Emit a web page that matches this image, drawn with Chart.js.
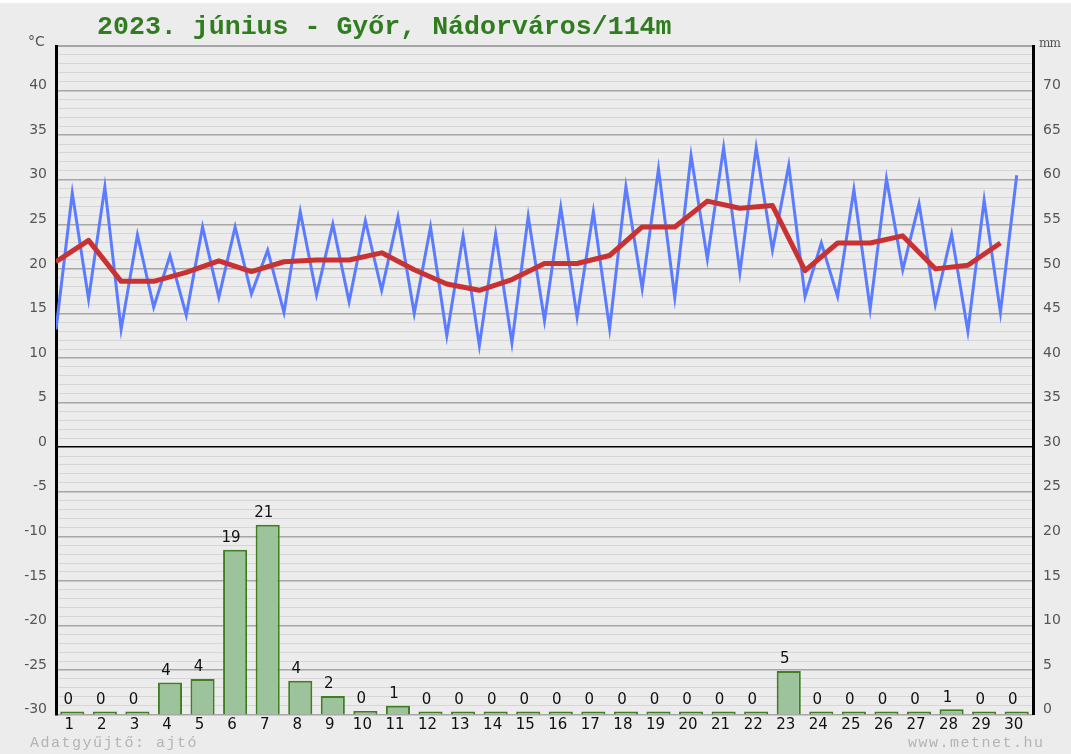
<!DOCTYPE html>
<html><head><meta charset="utf-8">
<script src="https://cdn.jsdelivr.net/npm/chart.js@4/dist/chart.umd.min.js"></script>
<style>
html,body{margin:0;padding:0;background:#fff;width:1071px;height:754px;overflow:hidden;}
#wrap{position:absolute;left:0;top:3px;width:1071px;height:751px;background:#ececec;}
canvas{position:absolute;left:0;top:0;}
.t{position:absolute;white-space:nowrap;line-height:1;}
</style></head><body>
<div id="wrap"></div>
<canvas id="c" width="1071" height="754"></canvas>
<div class="t" style="left:97px;top:14px;font-weight:bold;font-size:26.6px;font-family:'Liberation Mono';color:#2f7d1f;">2023. június - Győr, Nádorváros/114m</div>
<div class="t" style="left:28px;top:34px;font-size:14px;font-family:'DejaVu Sans';color:#555;">°C</div>
<div class="t" style="left:1039px;top:37px;font-size:12px;font-family:'DejaVu Serif';color:#555;letter-spacing:-1px;">mm</div>
<div class="t" style="left:30px;top:736px;font-size:15px;font-family:'Liberation Mono';color:#b4b4b4;letter-spacing:1.5px;">Adatgyűjtő: ajtó</div>
<div class="t" style="left:908px;top:736px;font-size:15px;font-family:'Liberation Mono';color:#b4b4b4;letter-spacing:1.5px;">www.metnet.hu</div>
<script>
const days = Array.from({length:30},(_,i)=>String(i+1));
const tmin = [13.2,16.6,13.2,15.7,14.8,16.8,17.2,15.1,17.1,16.3,17.6,15.0,12.5,11.4,11.7,14.2,14.6,13.3,17.8,16.8,21.1,19.6,22.1,16.9,16.9,15.5,19.9,16.0,13.0,15.1];
const tmax = [28.5,29.2,23.8,21.5,24.7,24.7,22.1,26.4,25.0,25.4,25.8,24.7,23.7,23.9,25.9,26.9,26.4,29.2,31.2,32.7,33.6,33.6,31.6,22.9,28.9,30.1,27.3,23.9,27.7,30.5];
const tavg = [20.8,23.2,18.6,18.6,19.6,20.9,19.7,20.8,21.0,21.0,21.8,19.9,18.3,17.6,18.8,20.6,20.6,21.5,24.7,24.7,27.6,26.8,27.1,19.8,22.9,22.9,23.7,20.0,20.4,22.9];
const precip = [0,0,0,3.6,4.0,18.5,21.3,3.8,2.1,0.4,1.0,0,0,0,0,0,0,0,0,0,0,0,4.9,0,0,0,0,0.6,0,0];

const bluePts = [];
tmin.forEach((v,i)=>{ bluePts.push({x:i, y:v}); bluePts.push({x:i+0.5, y:tmax[i]}); });
const redPts = tavg.map((v,i)=>({x:i, y:v}));

const barLabels = {
  id:'barLabels',
  afterDatasetsDraw(chart){
    const meta = chart.getDatasetMeta(2);
    const ctx = chart.ctx;
    ctx.save();
    ctx.font = '15px "DejaVu Sans"';
    ctx.fillStyle = '#111';
    ctx.textAlign = 'center';
    ctx.textBaseline = 'bottom';
    meta.data.forEach((el,i)=>{
      const top = Math.min(el.y, el.base);
      ctx.fillText(String(Math.round(precip[i])), el.x - 4, top - 4);
    });
    ctx.restore();
  }
};

const gridColor = c => { const v = c.tick.value; return v === 0 ? '#000' : (v % 5 === 0 ? '#a6a6a6' : '#d6d6d6'); };
const gridWidth = c => { const v = c.tick.value; return v === 0 ? 1.5 : (v === 45 ? 2 : (v % 5 === 0 ? 1.5 : 1)); };

new Chart(document.getElementById('c'), {
  type: 'bar',
  data: {
    labels: days,
    datasets: [
      { type:'line', data: redPts, xAxisID:'xl', yAxisID:'y', borderColor:'#c93232', borderWidth:5, pointRadius:0, tension:0, order:1, borderJoinStyle:'round' },
      { type:'line', data: bluePts, xAxisID:'xl', yAxisID:'y', borderColor:'#5b7cff', borderWidth:3, pointRadius:0, tension:0, order:2 },
      { type:'bar', data: precip, xAxisID:'x', yAxisID:'y2', backgroundColor:'#9cc39c', borderColor:'#3f7f1f', borderWidth:2, grouped:false, categoryPercentage:1, barPercentage:0.74, minBarLength:3, order:3 }
    ]
  },
  options: {
    responsive:false, animation:false, devicePixelRatio:1,
    layout:{ padding:{ top:46, left:0, right:0, bottom:0 } },
    plugins:{ legend:{display:false}, tooltip:{enabled:false} },
    scales: {
      x: { type:'category', offset:true, position:'bottom',
           grid:{display:false, drawTicks:false, offset:true}, border:{display:false},
           ticks:{ color:'#111', font:{family:'DejaVu Sans', size:15}, padding:2, maxRotation:0, autoSkip:false, labelOffset:-3 },
           afterFit(s){ s.height = 39.4; } },
      xl: { type:'linear', display:false, offset:false, min:0, max:30, grid:{offset:false} },
      y: { type:'linear', position:'left', min:-30, max:45,
           grid:{ color:gridColor, lineWidth:gridWidth, drawTicks:false },
           border:{ display:true, color:'#000', width:3 },
           ticks:{ stepSize:1, autoSkip:false, maxTicksLimit:200, padding:9, labelOffset:-5,
                   color:'#555', font:{family:'DejaVu Sans', size:14},
                   callback:v => (v % 5 === 0 && v !== 45) ? String(v) : '' },
           afterFit(s){ s.width = 56; } },
      y2: { type:'linear', position:'right', min:0, max:75,
           grid:{ display:false, drawTicks:false },
           border:{ display:true, color:'#000', width:3 },
           ticks:{ stepSize:1, autoSkip:false, maxTicksLimit:200, padding:10, labelOffset:-5,
                   color:'#555', font:{family:'DejaVu Sans', size:14},
                   callback:v => (v % 5 === 0 && v !== 75) ? String(v) : '' },
           afterFit(s){ s.width = 38; } }
    }
  },
  plugins:[barLabels]
});
</script>
</body></html>
